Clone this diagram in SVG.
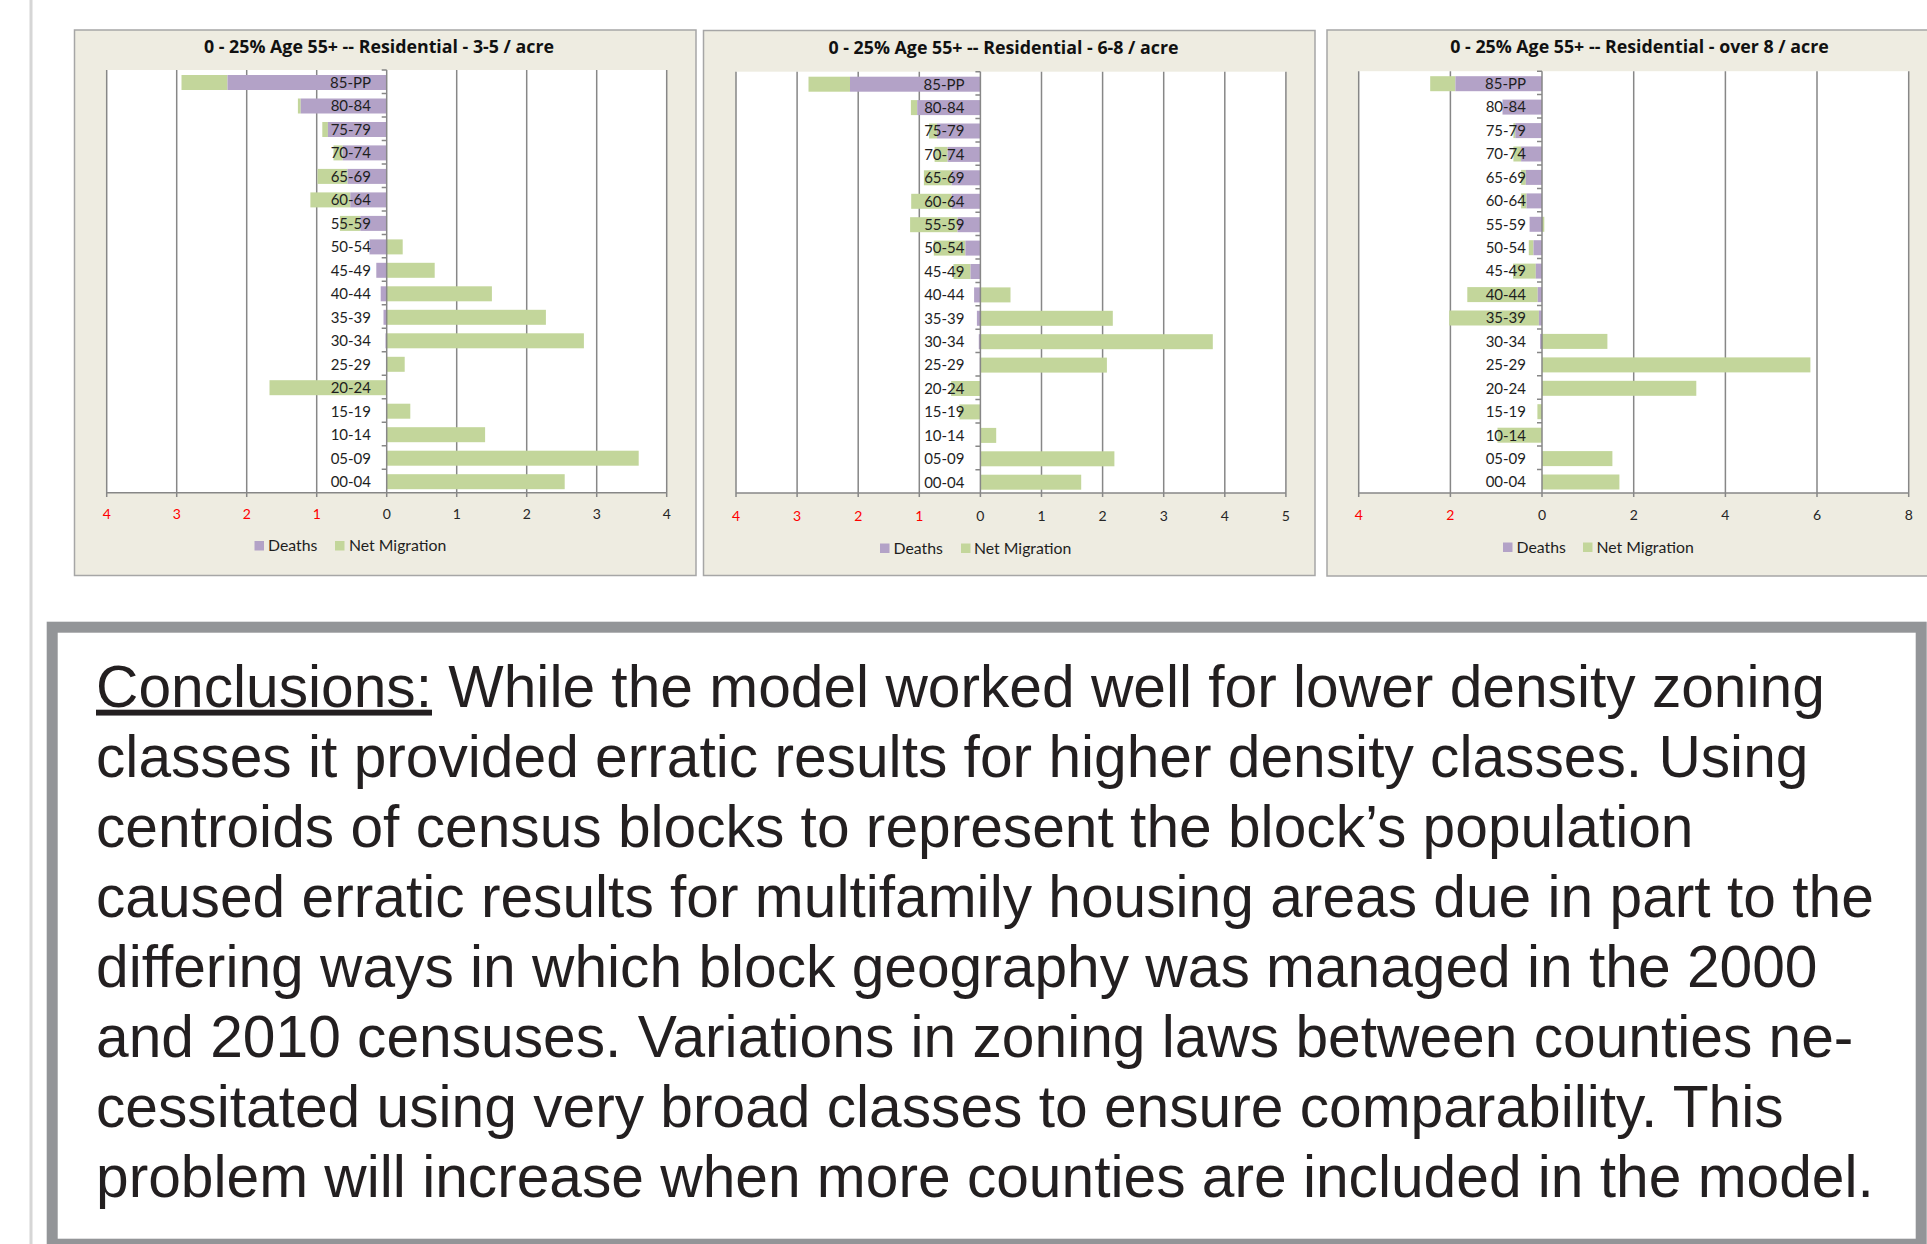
<svg xmlns="http://www.w3.org/2000/svg" width="1927" height="1244" viewBox="0 0 1927 1244">
  <style>
    .panel { fill: #eeece1; stroke: #a6a6a6; stroke-width: 1.5; }
    .plot { fill: #ffffff; }
    .grid { stroke: #878787; stroke-width: 1.5; fill: none; }
    .d { fill: #b3a2c7; }
    .m { fill: #c3d69b; }
    .title { font-family: "Open Sans", Lato, "Liberation Sans", sans-serif; font-weight: bold; font-size: 17.8px; fill: #111111; text-anchor: middle; }
    .lbl { font-family: Lato, "Liberation Sans", sans-serif; font-size: 15px; fill: #1e1e1e; text-anchor: end; }
    .tk { font-family: Lato, "Liberation Sans", sans-serif; font-size: 14px; fill: #262626; text-anchor: middle; }
    .tk.neg { fill: #ff0000; }
    .leg { font-family: Lato, "Liberation Sans", sans-serif; font-size: 15.8px; fill: #1e1e1e; }
    .body { font-family: "Liberation Sans", Arial, sans-serif; font-size: 58.7px; fill: #231f20; }
  </style>

  <rect width="1927" height="1244" fill="#ffffff"/>
  <!-- thin rule down the left margin -->
  <line x1="31" y1="0" x2="31" y2="1244" stroke="#d6d6d6" stroke-width="3"/>

  <!-- Chart 1: 3-5 / acre -->
  <g id="chart-3-5">
    <rect class="panel" x="74.5" y="30" width="621.5" height="545.5"/>
    <text class="title" x="379" y="52.5">0 - 25% Age 55+ -- Residential - 3-5 / acre</text>
    <rect class="plot" x="106.7" y="70" width="560" height="422.7"/>
    <g class="grid">
      <path d="M106.7 70V497M176.7 70V497M246.7 70V497M316.7 70V497M456.7 70V497M526.7 70V497M596.7 70V497M666.7 70V497"/>
      <path d="M106.7 492.7H666.7"/>
    </g>
    <g>
      <rect class="m" x="181.5" y="75" width="46" height="15"/><rect class="d" x="227.5" y="75" width="159.2" height="15"/>
      <rect class="m" x="297.9" y="98.5" width="2.8" height="15"/><rect class="d" x="300.7" y="98.5" width="86" height="15"/>
      <rect class="m" x="322.3" y="122" width="5.6" height="15"/><rect class="d" x="327.9" y="122" width="58.8" height="15"/>
      <rect class="m" x="333.5" y="145.4" width="9.2" height="15"/><rect class="d" x="342.7" y="145.4" width="44" height="15"/>
      <rect class="m" x="317.5" y="168.9" width="30" height="15"/><rect class="d" x="347.5" y="168.9" width="39.2" height="15"/>
      <rect class="m" x="310.4" y="192.4" width="39.9" height="15"/><rect class="d" x="350.3" y="192.4" width="36.4" height="15"/>
      <rect class="m" x="339.9" y="215.9" width="20.4" height="15"/><rect class="d" x="360.3" y="215.9" width="26.4" height="15"/>
      <rect class="d" x="369.5" y="239.4" width="17.2" height="15"/><rect class="m" x="386.7" y="239.4" width="16" height="15"/>
      <rect class="d" x="376.3" y="262.8" width="10.4" height="15"/><rect class="m" x="386.7" y="262.8" width="48" height="15"/>
      <rect class="d" x="380.7" y="286.3" width="6" height="15"/><rect class="m" x="386.7" y="286.3" width="105.2" height="15"/>
      <rect class="d" x="383.5" y="309.8" width="3.2" height="15"/><rect class="m" x="386.7" y="309.8" width="159.2" height="15"/>
      <rect class="d" x="385.5" y="333.3" width="1.2" height="15"/><rect class="m" x="386.7" y="333.3" width="197.2" height="15"/>
      <rect class="d" x="386" y="356.8" width="0.7" height="15"/><rect class="m" x="386.7" y="356.8" width="18" height="15"/>
      <rect class="m" x="269.5" y="380.2" width="117.2" height="15"/>
      <rect class="m" x="386.7" y="403.7" width="23.6" height="15"/>
      <rect class="m" x="386.7" y="427.2" width="98.4" height="15"/>
      <rect class="m" x="386.7" y="450.7" width="252" height="15"/>
      <rect class="m" x="386.7" y="474.2" width="178" height="15"/>
    </g>
    <path class="grid" d="M386.7 70V497M381.7 70H386.7M381.7 93.5H386.7M381.7 117H386.7M381.7 140.4H386.7M381.7 163.9H386.7M381.7 187.4H386.7M381.7 210.9H386.7M381.7 234.4H386.7M381.7 257.8H386.7M381.7 281.3H386.7M381.7 304.8H386.7M381.7 328.3H386.7M381.7 351.8H386.7M381.7 375.2H386.7M381.7 398.7H386.7M381.7 422.2H386.7M381.7 445.7H386.7M381.7 469.2H386.7"/>
    <g class="lbl">
      <text x="371" y="87.8">85-PP</text>
      <text x="371" y="111.3">80-84</text>
      <text x="371" y="134.8">75-79</text>
      <text x="371" y="158.2">70-74</text>
      <text x="371" y="181.7">65-69</text>
      <text x="371" y="205.2">60-64</text>
      <text x="371" y="228.7">55-59</text>
      <text x="371" y="252.2">50-54</text>
      <text x="371" y="275.6">45-49</text>
      <text x="371" y="299.1">40-44</text>
      <text x="371" y="322.6">35-39</text>
      <text x="371" y="346.1">30-34</text>
      <text x="371" y="369.6">25-29</text>
      <text x="371" y="393">20-24</text>
      <text x="371" y="416.5">15-19</text>
      <text x="371" y="440">10-14</text>
      <text x="371" y="463.5">05-09</text>
      <text x="371" y="487">00-04</text>
    </g>
    <g>
      <text class="tk neg" x="106.7" y="519">4</text>
      <text class="tk neg" x="176.7" y="519">3</text>
      <text class="tk neg" x="246.7" y="519">2</text>
      <text class="tk neg" x="316.7" y="519">1</text>
      <text class="tk" x="386.7" y="519">0</text>
      <text class="tk" x="456.7" y="519">1</text>
      <text class="tk" x="526.7" y="519">2</text>
      <text class="tk" x="596.7" y="519">3</text>
      <text class="tk" x="666.7" y="519">4</text>
    </g>
    <g>
      <rect class="d" x="254.5" y="541" width="9.5" height="9.5"/>
      <text class="leg" x="268" y="551">Deaths</text>
      <rect class="m" x="335" y="541" width="9.5" height="9.5"/>
      <text class="leg" x="349" y="551">Net Migration</text>
    </g>
  </g>

  <!-- Chart 2: 6-8 / acre -->
  <g id="chart-6-8">
    <rect class="panel" x="703.5" y="30.5" width="611.5" height="545"/>
    <text class="title" x="1003.5" y="53.5">0 - 25% Age 55+ -- Residential - 6-8 / acre</text>
    <rect class="plot" x="736" y="71.7" width="550" height="421.3"/>
    <g class="grid">
      <path d="M736 71.7V497M797.1 71.7V497M858.2 71.7V497M919.3 71.7V497M1041.5 71.7V497M1102.6 71.7V497M1163.7 71.7V497M1224.8 71.7V497M1285.9 71.7V497"/>
      <path d="M736 493H1285.9"/>
    </g>
    <g>
      <rect class="m" x="808.5" y="76.7" width="41.5" height="15"/><rect class="d" x="850" y="76.7" width="130.4" height="15"/>
      <rect class="m" x="910.9" y="100.1" width="6.3" height="15"/><rect class="d" x="917.2" y="100.1" width="63.2" height="15"/>
      <rect class="m" x="929" y="123.5" width="8" height="15"/><rect class="d" x="937" y="123.5" width="43.4" height="15"/>
      <rect class="m" x="934.6" y="146.9" width="13" height="15"/><rect class="d" x="947.6" y="146.9" width="32.8" height="15"/>
      <rect class="m" x="923.9" y="170.3" width="27.7" height="15"/><rect class="d" x="951.6" y="170.3" width="28.8" height="15"/>
      <rect class="m" x="911.2" y="193.8" width="40.4" height="15"/><rect class="d" x="951.6" y="193.8" width="28.8" height="15"/>
      <rect class="m" x="910.1" y="217.2" width="47.4" height="15"/><rect class="d" x="957.5" y="217.2" width="22.9" height="15"/>
      <rect class="m" x="933.8" y="240.6" width="31.6" height="15"/><rect class="d" x="965.4" y="240.6" width="15" height="15"/>
      <rect class="m" x="953.5" y="264" width="17" height="15"/><rect class="d" x="970.5" y="264" width="9.9" height="15"/>
      <rect class="d" x="974.1" y="287.4" width="6.3" height="15"/><rect class="m" x="980.4" y="287.4" width="30.1" height="15"/>
      <rect class="d" x="976.9" y="310.8" width="3.5" height="15"/><rect class="m" x="980.4" y="310.8" width="132.4" height="15"/>
      <rect class="d" x="978.8" y="334.2" width="1.6" height="15"/><rect class="m" x="980.4" y="334.2" width="232.4" height="15"/>
      <rect class="d" x="979.8" y="357.6" width="0.6" height="15"/><rect class="m" x="980.4" y="357.6" width="126.5" height="15"/>
      <rect class="m" x="951.1" y="381" width="29.3" height="15"/>
      <rect class="m" x="959.4" y="404.4" width="21" height="15"/>
      <rect class="m" x="980.4" y="427.9" width="15.8" height="15"/>
      <rect class="m" x="980.4" y="451.3" width="134" height="15"/>
      <rect class="m" x="980.4" y="474.7" width="100.8" height="15"/>
    </g>
    <path class="grid" d="M980.4 71.7V497M975.4 71.7H980.4M975.4 95.1H980.4M975.4 118.5H980.4M975.4 141.9H980.4M975.4 165.3H980.4M975.4 188.8H980.4M975.4 212.2H980.4M975.4 235.6H980.4M975.4 259H980.4M975.4 282.4H980.4M975.4 305.8H980.4M975.4 329.2H980.4M975.4 352.6H980.4M975.4 376H980.4M975.4 399.4H980.4M975.4 422.9H980.4M975.4 446.3H980.4M975.4 469.7H980.4"/>
    <g class="lbl">
      <text x="964.5" y="89.5">85-PP</text>
      <text x="964.5" y="112.9">80-84</text>
      <text x="964.5" y="136.3">75-79</text>
      <text x="964.5" y="159.7">70-74</text>
      <text x="964.5" y="183.1">65-69</text>
      <text x="964.5" y="206.6">60-64</text>
      <text x="964.5" y="230">55-59</text>
      <text x="964.5" y="253.4">50-54</text>
      <text x="964.5" y="276.8">45-49</text>
      <text x="964.5" y="300.2">40-44</text>
      <text x="964.5" y="323.6">35-39</text>
      <text x="964.5" y="347">30-34</text>
      <text x="964.5" y="370.4">25-29</text>
      <text x="964.5" y="393.8">20-24</text>
      <text x="964.5" y="417.2">15-19</text>
      <text x="964.5" y="440.7">10-14</text>
      <text x="964.5" y="464.1">05-09</text>
      <text x="964.5" y="487.5">00-04</text>
    </g>
    <g>
      <text class="tk neg" x="736" y="521">4</text>
      <text class="tk neg" x="797.1" y="521">3</text>
      <text class="tk neg" x="858.2" y="521">2</text>
      <text class="tk neg" x="919.3" y="521">1</text>
      <text class="tk" x="980.4" y="521">0</text>
      <text class="tk" x="1041.5" y="521">1</text>
      <text class="tk" x="1102.6" y="521">2</text>
      <text class="tk" x="1163.7" y="521">3</text>
      <text class="tk" x="1224.8" y="521">4</text>
      <text class="tk" x="1285.9" y="521">5</text>
    </g>
    <g>
      <rect class="d" x="880" y="543.5" width="9.5" height="9.5"/>
      <text class="leg" x="893.5" y="553.5">Deaths</text>
      <rect class="m" x="961" y="543.5" width="9.5" height="9.5"/>
      <text class="leg" x="974" y="553.5">Net Migration</text>
    </g>
  </g>

  <!-- Chart 3: over 8 / acre -->
  <g id="chart-over-8">
    <rect class="panel" x="1327" y="30" width="610" height="546"/>
    <text class="title" x="1639.5" y="53">0 - 25% Age 55+ -- Residential - over 8 / acre</text>
    <rect class="plot" x="1358.7" y="71.2" width="550" height="421.8"/>
    <g class="grid">
      <path d="M1358.7 71.2V497M1450.4 71.2V497M1633.7 71.2V497M1725.4 71.2V497M1817 71.2V497M1908.7 71.2V497"/>
      <path d="M1358.7 493H1908.7"/>
    </g>
    <g>
      <rect class="m" x="1430.2" y="76.2" width="25.2" height="15"/><rect class="d" x="1455.4" y="76.2" width="86.6" height="15"/>
      <rect class="d" x="1502.5" y="99.6" width="39.5" height="15"/>
      <rect class="m" x="1513.4" y="123.1" width="1.9" height="15"/><rect class="d" x="1515.3" y="123.1" width="26.7" height="15"/>
      <rect class="m" x="1513.4" y="146.5" width="7.7" height="15"/><rect class="d" x="1521.1" y="146.5" width="20.9" height="15"/>
      <rect class="m" x="1521.1" y="169.9" width="4.7" height="15"/><rect class="d" x="1525.8" y="169.9" width="16.2" height="15"/>
      <rect class="m" x="1521.1" y="193.4" width="5.4" height="15"/><rect class="d" x="1526.5" y="193.4" width="15.5" height="15"/>
      <rect class="d" x="1529.6" y="216.8" width="12.4" height="15"/><rect class="m" x="1542" y="216.8" width="2.3" height="15"/>
      <rect class="m" x="1528.8" y="240.2" width="4.7" height="15"/><rect class="d" x="1533.5" y="240.2" width="8.5" height="15"/>
      <rect class="m" x="1513" y="263.6" width="22.8" height="15"/><rect class="d" x="1535.8" y="263.6" width="6.2" height="15"/>
      <rect class="m" x="1467.3" y="287.1" width="70.4" height="15"/><rect class="d" x="1537.7" y="287.1" width="4.3" height="15"/>
      <rect class="m" x="1449.2" y="310.5" width="89.7" height="15"/><rect class="d" x="1538.9" y="310.5" width="3.1" height="15"/>
      <rect class="d" x="1540.1" y="333.9" width="1.9" height="15"/><rect class="m" x="1542" y="333.9" width="65.4" height="15"/>
      <rect class="m" x="1542" y="357.4" width="268.4" height="15"/>
      <rect class="m" x="1542" y="380.8" width="154.3" height="15"/>
      <rect class="m" x="1537.4" y="404.2" width="4.6" height="15"/>
      <rect class="m" x="1497.5" y="427.7" width="44.5" height="15"/>
      <rect class="m" x="1542" y="451.1" width="70.4" height="15"/>
      <rect class="m" x="1542" y="474.5" width="77.4" height="15"/>
    </g>
    <path class="grid" d="M1542 71.2V497M1537 71.2H1542M1537 94.6H1542M1537 118.1H1542M1537 141.5H1542M1537 164.9H1542M1537 188.4H1542M1537 211.8H1542M1537 235.2H1542M1537 258.6H1542M1537 282.1H1542M1537 305.5H1542M1537 328.9H1542M1537 352.4H1542M1537 375.8H1542M1537 399.2H1542M1537 422.7H1542M1537 446.1H1542M1537 469.5H1542"/>
    <g class="lbl">
      <text x="1526" y="89">85-PP</text>
      <text x="1526" y="112.4">80-84</text>
      <text x="1526" y="135.9">75-79</text>
      <text x="1526" y="159.3">70-74</text>
      <text x="1526" y="182.7">65-69</text>
      <text x="1526" y="206.2">60-64</text>
      <text x="1526" y="229.6">55-59</text>
      <text x="1526" y="253">50-54</text>
      <text x="1526" y="276.4">45-49</text>
      <text x="1526" y="299.9">40-44</text>
      <text x="1526" y="323.3">35-39</text>
      <text x="1526" y="346.7">30-34</text>
      <text x="1526" y="370.2">25-29</text>
      <text x="1526" y="393.6">20-24</text>
      <text x="1526" y="417">15-19</text>
      <text x="1526" y="440.5">10-14</text>
      <text x="1526" y="463.9">05-09</text>
      <text x="1526" y="487.3">00-04</text>
    </g>
    <g>
      <text class="tk neg" x="1358.7" y="520">4</text>
      <text class="tk neg" x="1450.4" y="520">2</text>
      <text class="tk" x="1542" y="520">0</text>
      <text class="tk" x="1633.7" y="520">2</text>
      <text class="tk" x="1725.4" y="520">4</text>
      <text class="tk" x="1817" y="520">6</text>
      <text class="tk" x="1908.7" y="520">8</text>
    </g>
    <g>
      <rect class="d" x="1503" y="542.5" width="9.5" height="9.5"/>
      <text class="leg" x="1516.5" y="552.5">Deaths</text>
      <rect class="m" x="1583" y="542.5" width="9.5" height="9.5"/>
      <text class="leg" x="1596.5" y="552.5">Net Migration</text>
    </g>
  </g>

  <!-- Conclusions text box -->
  <g id="conclusions">
    <rect x="52.2" y="627.2" width="1869" height="617" fill="#ffffff" stroke="#939598" stroke-width="11"/>
    <text class="body" x="96" y="706.7"><tspan text-decoration="underline">Conclusions:</tspan> While the model worked well for lower density zoning</text>
    <text class="body" x="96" y="776.8">classes it provided erratic results for higher density classes. Using</text>
    <text class="body" x="96" y="846.9">centroids of census blocks to represent the block’s population</text>
    <text class="body" x="96" y="917">caused erratic results for multifamily housing areas due in part to the</text>
    <text class="body" x="96" y="987.1">differing ways in which block geography was managed in the 2000</text>
    <text class="body" x="96" y="1057.2">and 2010 censuses. Variations in zoning laws between counties ne-</text>
    <text class="body" x="96" y="1127.3">cessitated using very broad classes to ensure comparability. This</text>
    <text class="body" x="96" y="1197.4">problem will increase when more counties are included in the model.</text>
  </g>
</svg>
